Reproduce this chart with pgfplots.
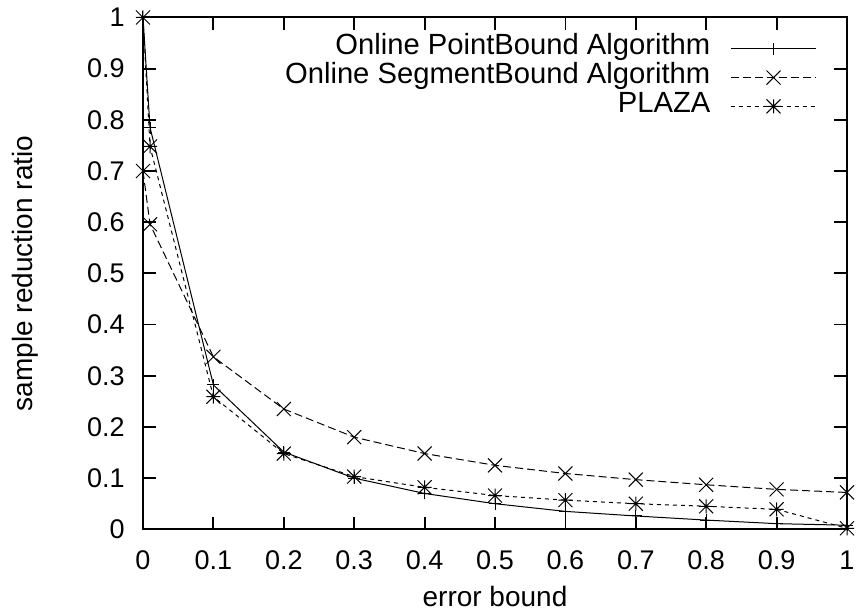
\documentclass[border=0pt]{standalone}
\usepackage{pgfplots}
\pgfplotsset{compat=1.18}
\usepackage{fontspec}
\setmainfont{Liberation Sans}
\pgfdeclareplotmark{gpplus}{%
  \pgfpathmoveto{\pgfqpoint{-\pgfplotmarksize}{0pt}}%
  \pgfpathlineto{\pgfqpoint{\pgfplotmarksize}{0pt}}%
  \pgfpathmoveto{\pgfqpoint{0pt}{-\pgfplotmarksize}}%
  \pgfpathlineto{\pgfqpoint{0pt}{\pgfplotmarksize}}%
  \pgfusepathqstroke}
\pgfdeclareplotmark{gpcross}{%
  \pgfpathmoveto{\pgfqpoint{-\pgfplotmarksize}{-\pgfplotmarksize}}%
  \pgfpathlineto{\pgfqpoint{\pgfplotmarksize}{\pgfplotmarksize}}%
  \pgfpathmoveto{\pgfqpoint{-\pgfplotmarksize}{\pgfplotmarksize}}%
  \pgfpathlineto{\pgfqpoint{\pgfplotmarksize}{-\pgfplotmarksize}}%
  \pgfusepathqstroke}
\pgfdeclareplotmark{gpstar}{%
  \pgfpathmoveto{\pgfqpoint{-\pgfplotmarksize}{0pt}}%
  \pgfpathlineto{\pgfqpoint{\pgfplotmarksize}{0pt}}%
  \pgfpathmoveto{\pgfqpoint{0pt}{-\pgfplotmarksize}}%
  \pgfpathlineto{\pgfqpoint{0pt}{\pgfplotmarksize}}%
  \pgfpathmoveto{\pgfqpoint{-\pgfplotmarksize}{-\pgfplotmarksize}}%
  \pgfpathlineto{\pgfqpoint{\pgfplotmarksize}{\pgfplotmarksize}}%
  \pgfpathmoveto{\pgfqpoint{-\pgfplotmarksize}{\pgfplotmarksize}}%
  \pgfpathlineto{\pgfqpoint{\pgfplotmarksize}{-\pgfplotmarksize}}%
  \pgfusepathqstroke}
\begin{document}
\begin{tikzpicture}
\begin{axis}[
  name=ax,
  scale only axis,
  width=352pt, height=255.9pt,
  xmin=0, xmax=1, ymin=0, ymax=1,
  xtick={0,0.1,0.2,0.3,0.4,0.5,0.6,0.7,0.8,0.9,1},
  ytick={0,0.1,0.2,0.3,0.4,0.5,0.6,0.7,0.8,0.9,1},
  xticklabels={0,0.1,0.2,0.3,0.4,0.5,0.6,0.7,0.8,0.9,1},
  yticklabels={0,0.1,0.2,0.3,0.4,0.5,0.6,0.7,0.8,0.9,1},
  font=\fontsize{14}{16}\selectfont,
  tick label style={font=\fontsize{13.5}{15}\selectfont, inner sep=0pt},
  xticklabel style={anchor=north, yshift=-10.5pt},
  yticklabel style={anchor=east, xshift=-9pt},
  axis line style={line width=1pt},
  major tick style={line width=0.9pt, black},
  major tick length=6.3pt,
  tick align=inside,
  xlabel={error bound},
  ylabel={sample reduction ratio},
  every axis x label/.style={at={([yshift=-38.5pt]axis description cs:0.5,0)}, anchor=base, inner sep=0pt},
  every axis y label/.style={at={([xshift=-55pt]axis description cs:0,0.5)}, rotate=90, anchor=base, inner sep=0pt},
  legend style={draw=none, fill=none, at={(rel axis cs:0.957,0.967)}, anchor=north east,
    inner sep=0pt, outer sep=0pt,
    cells={anchor=east}, legend plot pos=right, row sep=0pt, column sep=10pt,
    nodes={inner sep=0pt, text height=10.2pt, text depth=4.2pt},
    font=\fontsize{14.6}{16}\selectfont},
  legend image code/.code={\draw[mark repeat=2,mark phase=2] plot coordinates {(0cm,0cm)(0.75cm,0cm)(1.5cm,0cm)};},
]
\addplot[black, line width=0.5pt, mark=gpplus, mark size=3pt, mark options={solid}] coordinates {
(0,1) (0.01,0.785) (0.1,0.282) (0.2,0.151) (0.3,0.1) (0.4,0.07) (0.5,0.05) (0.6,0.035) (0.7,0.026) (0.8,0.018) (0.9,0.011) (1,0.008)};
\addlegendentry{Online PointBound Algorithm}
\addplot[black, line width=0.5pt, dash pattern=on 4pt off 2pt, mark=gpcross, mark size=3.5pt, mark options={solid}] coordinates {
(0,0.7) (0.01,0.596) (0.1,0.337) (0.2,0.235) (0.3,0.18) (0.4,0.148) (0.5,0.125) (0.6,0.109) (0.7,0.097) (0.8,0.087) (0.9,0.078) (1,0.072)};
\addlegendentry{Online SegmentBound Algorithm}
\addplot[black, line width=0.5pt, dash pattern=on 2pt off 2pt, mark=gpstar, mark size=3.5pt, mark options={solid}] coordinates {
(0,1) (0.01,0.748) (0.1,0.259) (0.2,0.148) (0.3,0.103) (0.4,0.082) (0.5,0.066) (0.6,0.057) (0.7,0.05) (0.8,0.045) (0.9,0.039) (1,0.002)};
\addlegendentry{PLAZA}
\end{axis}
\pgfresetboundingbox
\path ([shift={(-71.5pt,-42.85pt)}]ax.south west) rectangle ([shift={(5pt,8.75pt)}]ax.north east);
\end{tikzpicture}
\end{document}
